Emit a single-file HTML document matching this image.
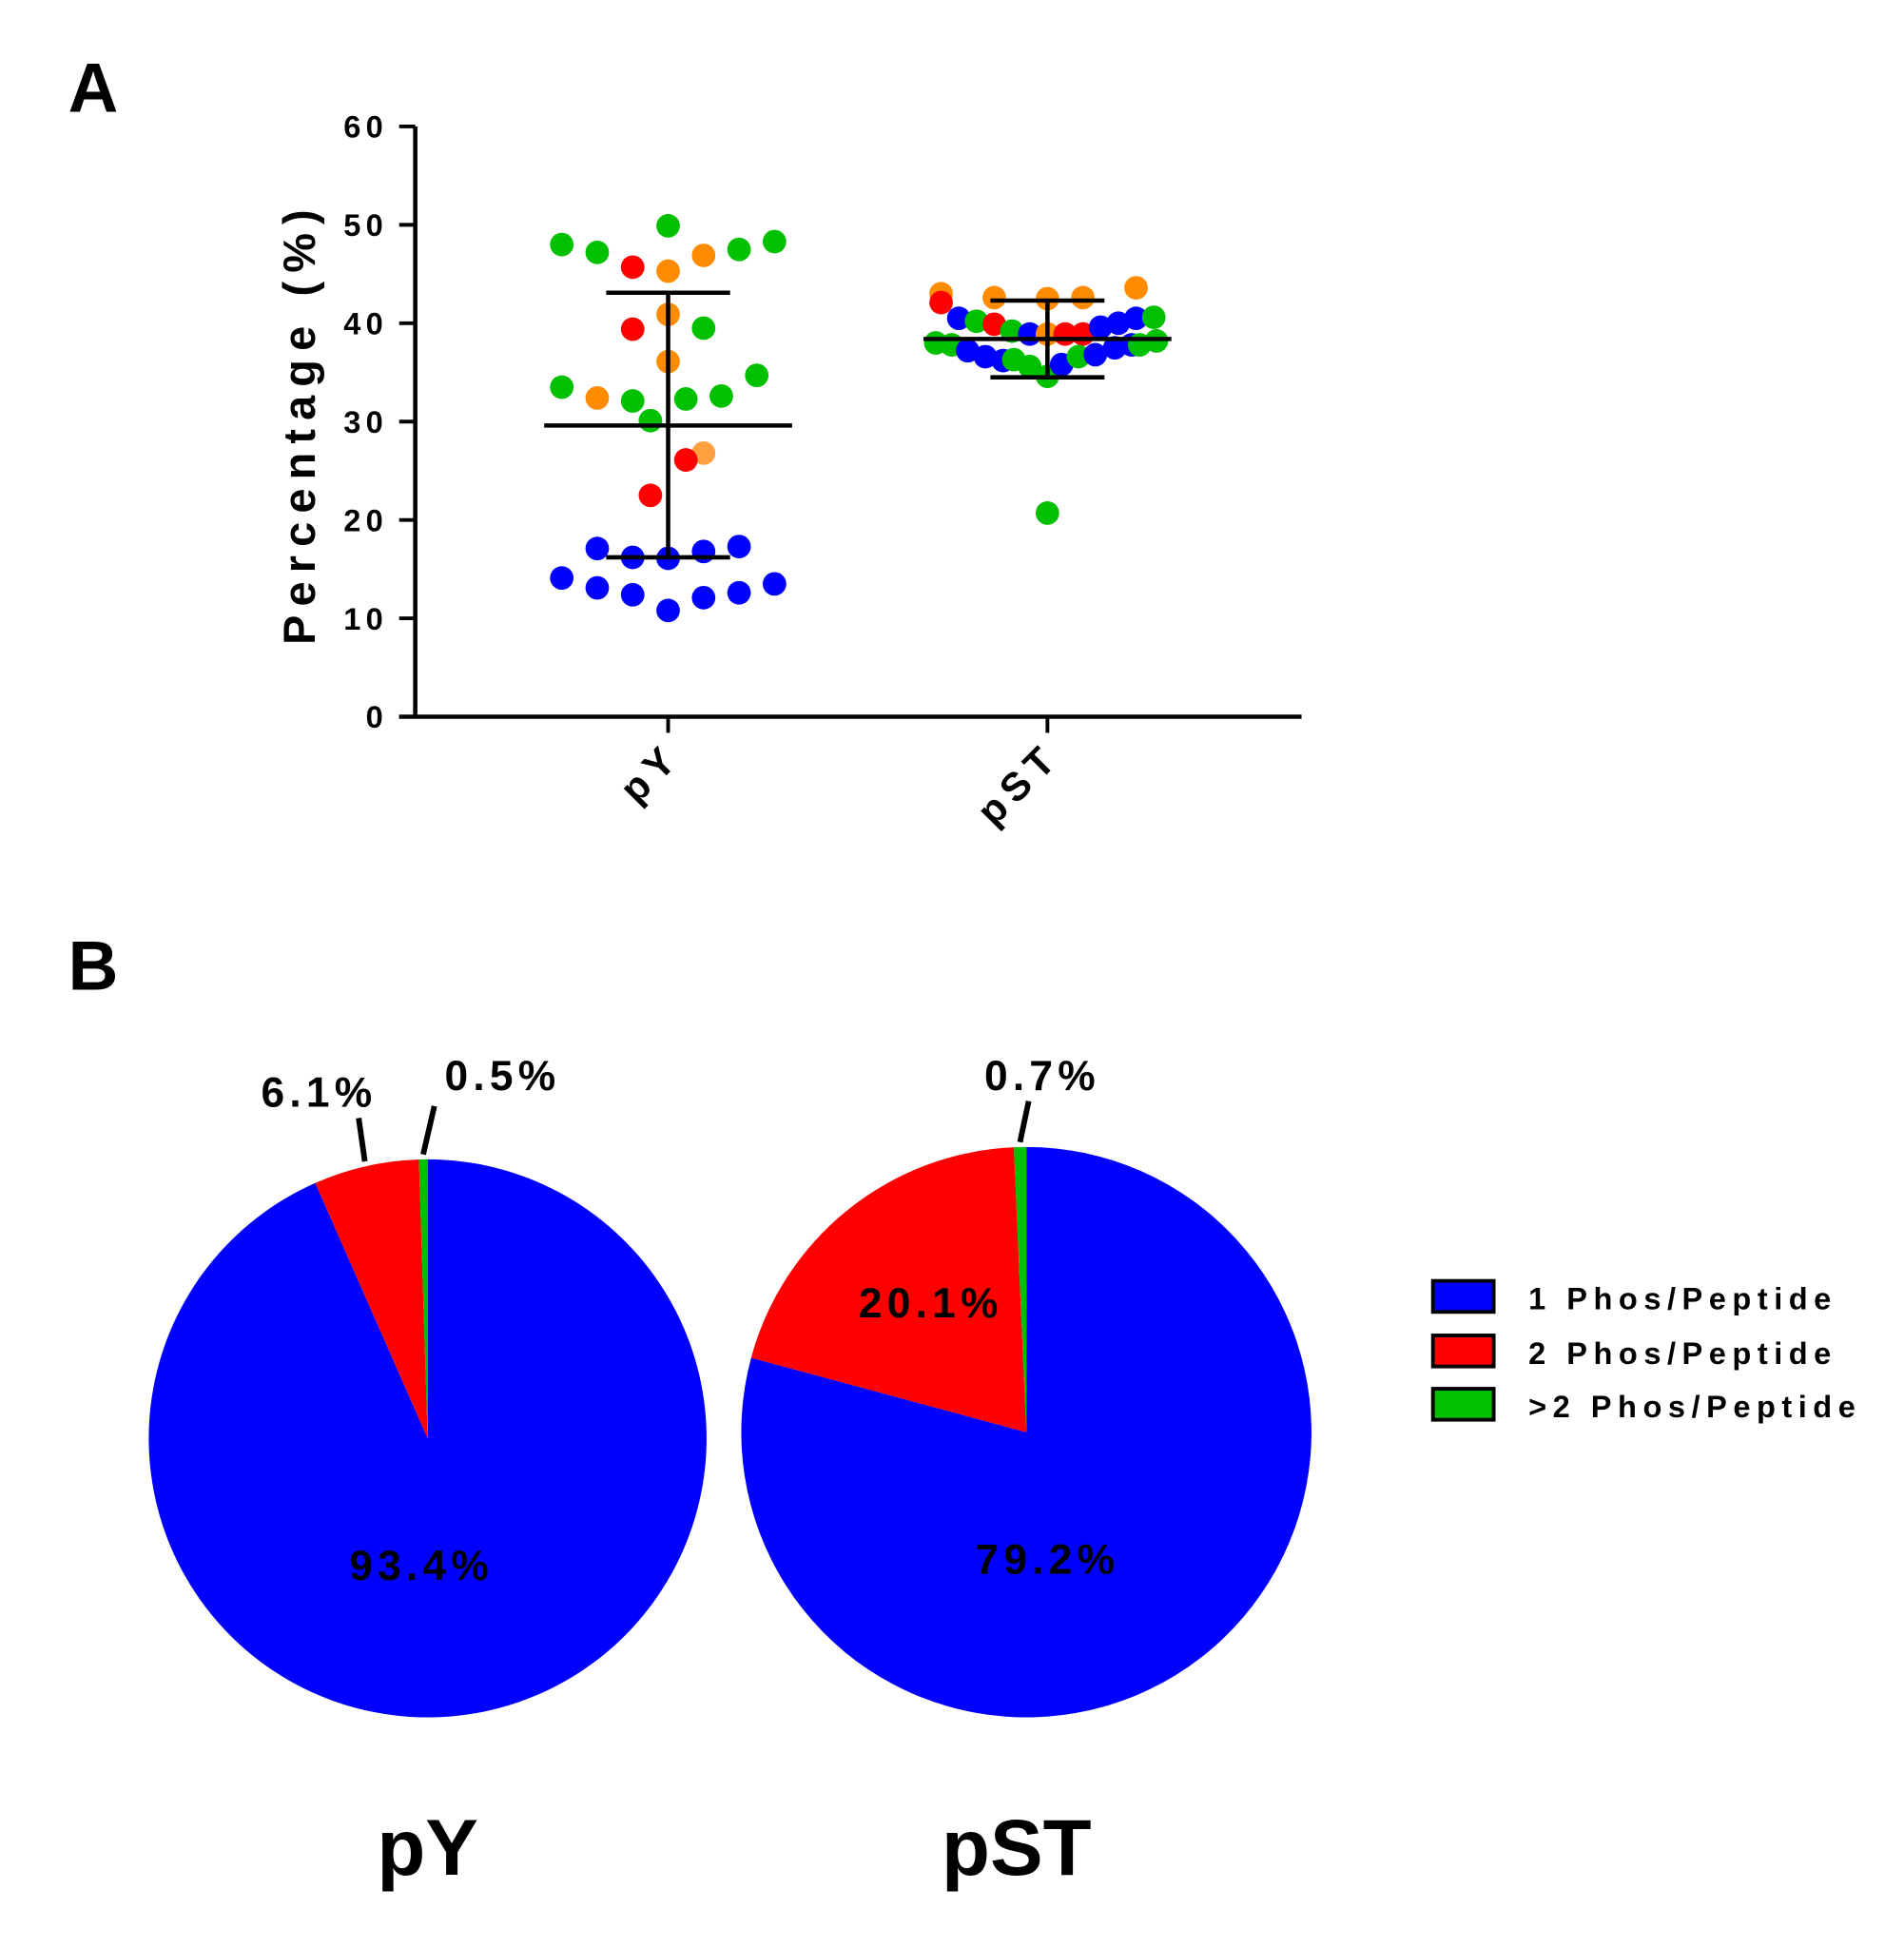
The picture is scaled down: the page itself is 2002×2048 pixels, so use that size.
<!DOCTYPE html>
<html><head><meta charset="utf-8"><style>
html,body{margin:0;padding:0;background:#fff;}
svg{display:block;font-family:"Liberation Sans",Arial,sans-serif;font-weight:bold;}
</style></head><body>
<svg id="fig" width="2002" height="2048" viewBox="0 0 1536 1571" preserveAspectRatio="none" xmlns="http://www.w3.org/2000/svg">
<rect width="1536" height="1571" fill="#fff"/>
<text x="55" y="90" font-size="56">A</text>
<text x="55" y="798" font-size="56">B</text>
<g id="scatter"></g>
<g id="pies"></g>
<g>
 <rect x="1156" y="1033" width="49" height="25" fill="#0000ff" stroke="#000" stroke-width="3"/>
 <text x="1233" y="1056" font-size="25" letter-spacing="5">1 Phos/Peptide</text>
 <rect x="1156" y="1077" width="49" height="25" fill="#ff0000" stroke="#000" stroke-width="3"/>
 <text x="1233" y="1100" font-size="25" letter-spacing="5">2 Phos/Peptide</text>
 <rect x="1156" y="1120" width="49" height="25" fill="#00c000" stroke="#000" stroke-width="3"/>
 <text x="1233" y="1143" font-size="25" letter-spacing="5">&gt;2 Phos/Peptide</text>
</g>
</svg>
<script>
const NS="http://www.w3.org/2000/svg";
// ---- scatter data ----
const categories=["pY","pST"];
const yTicks=[0,10,20,30,40,50,60];
const pYValues=[48,47.2,49.9,47.5,48.3,45.7,45.3,46.9,39.4,40.9,39.5,36.1,33.5,32.4,32.1,32.3,32.6,34.7,30.1,26.8,26.1,22.5,17.1,16.2,16.1,16.8,17.3,14.1,13.1,12.4,10.8,12.1,12.6,13.5];
const pYSlots=[-6,-4,0,4,6,-2,0,2,-2,0,2,0,-6,-4,-2,1,3,5,-1,2,1,-1,-4,-2,0,2,4,-6,-4,-2,0,2,4,6];
const pYColors=["g","g","g","g","g","r","o","o","r","o","g","o","g","o","g","g","g","g","g","l","r","r","b","b","b","b","b","b","b","b","b","b","b","b"];
const pSTValues=[43,42.6,42.5,42.6,43.6,42.1,40.5,40.2,39.9,39.2,38.9,38.9,38.9,38.9,39.6,40,40.5,40.6,38,37.8,37.2,36.6,36.2,36.3,35.6,34.6,35.8,36.6,36.8,37.5,37.8,37.8,38.2,20.7];
const pSTSlots=[-6,-3,0,2,5,-6,-5,-4,-3,-2,-1,0,1,2,3,4,5,6,-6.3,-5.4,-4.5,-3.5,-2.5,-1.9,-1,0,0.8,1.75,2.7,3.8,4.75,5.2,6.15,0];
const pSTColors=["o","o","o","o","o","r","b","g","r","g","b","o","r","r","b","b","b","g","g","g","b","b","b","g","g","g","b","g","b","b","b","g","g","g"];
const means=[29.6,38.4];
const sdHigh=[43.1,42.3];
const sdLow=[16.2,34.5];
// ---- pie data ----
const pieNames=["pY","pST"];
const pieOne=[93.4,79.2];
const pieTwo=[6.1,20.1];
const pieMore=[0.5,0.7];

const colorMap={b:"#0000ff",r:"#ff0000",o:"#ff8c00",l:"#ffa040",g:"#00c000"};
const X0=335,Y0=578,Y60=102,XEND=1050,catX=[539,845],slotW=14.3;
function ys(v){return Y0-(v/60)*(Y0-Y60);}
function xs(i,s){return catX[i]+s*slotW;}
function mk(tag,attrs,parent){const e=document.createElementNS(NS,tag);for(const k in attrs)e.setAttribute(k,attrs[k]);parent.appendChild(e);return e;}
const sc=document.getElementById("scatter");
let ax=mk("line",{x1:X0,y1:Y60,x2:X0,y2:Y0+1.5,stroke:"#000","stroke-width":3.5},sc);


let bx=mk("line",{x1:322,y1:Y0,x2:XEND,y2:Y0,stroke:"#000","stroke-width":3.5},sc);


yTicks.forEach(t=>{
 let l=mk("line",{x1:322,y1:ys(t),x2:X0,y2:ys(t),stroke:"#000","stroke-width":3},sc);
 
 
 let tx=mk("text",{x:313,y:ys(t)+9,"font-size":25,"text-anchor":"end","letter-spacing":4},sc);
 tx.textContent=t;
 
 
});
let yt=mk("text",{x:0,y:0,"font-size":36,"text-anchor":"middle","letter-spacing":7,transform:"translate(254,341) rotate(-90)"},sc);
yt.textContent="Percentage (%)";


categories.forEach((c,i)=>{
 let l=mk("line",{x1:catX[i],y1:Y0,x2:catX[i],y2:591,stroke:"#000","stroke-width":3},sc);
 
 
 let tx=mk("text",{x:0,y:0,"font-size":32,"text-anchor":"end","letter-spacing":6,transform:`translate(${catX[i]+12},${612}) rotate(-45)`},sc);
 tx.textContent=c;
 
 
});
function dots(vals,slots,cols,i){
 vals.forEach((v,k)=>{
  let d=mk("circle",{cx:xs(i,slots[k]),cy:ys(v),r:9.5,fill:colorMap[cols[k]]},sc);
  
  
 });
}
dots(pYValues,pYSlots,pYColors,0);
dots(pSTValues,pSTSlots,pSTColors,1);
const meanHalf=[100,100],capHalf=[50,46];
categories.forEach((c,i)=>{
 const x=catX[i];
 [[x-meanHalf[i],ys(means[i]),x+meanHalf[i],ys(means[i]),'mean-line'],
  [x,ys(sdHigh[i]),x,ys(sdLow[i]),'sd-bar'],
  [x-capHalf[i],ys(sdHigh[i]),x+capHalf[i],ys(sdHigh[i]),'sd-cap-high'],
  [x-capHalf[i],ys(sdLow[i]),x+capHalf[i],ys(sdLow[i]),'sd-cap-low']].forEach(a=>{
  let l=mk("line",{x1:a[0],y1:a[1],x2:a[2],y2:a[3],stroke:"#000","stroke-width":3.5},sc);
  
  
 });
});
// ---- pies ----
const pg=document.getElementById("pies");
const pieCx=[345,828],pieCy=[1160,1155],pieR=[225,230];
const sliceCols=["#0000ff","#ff0000","#00c000"];
const leaderStyle={ "0-1":{lead:[-5,-35],lab:[-37,-44]}, "0-2":{lead:[9,-39],lab:[64,-52]}, "1-2":{lead:[7,-33],lab:[18,-42]} };
function pt(cx,cy,r,frac){const a=frac*2*Math.PI;return [cx+r*Math.sin(a),cy-r*Math.cos(a)];}
pieNames.forEach((n,i)=>{
 const vals=[pieOne[i],pieTwo[i],pieMore[i]];
 const tot=vals.reduce((a,b)=>a+b,0);
 let acc=0;
 const cx=pieCx[i],cy=pieCy[i],r=pieR[i];
 vals.forEach((v,k)=>{
  const f0=acc/tot,f1=(acc+v)/tot;acc+=v;
  const p0=pt(cx,cy,r,f0),p1=pt(cx,cy,r,f1);
  const large=(f1-f0)>0.5?1:0;
  let p=mk("path",{d:`M${cx},${cy} L${p0[0]},${p0[1]} A${r},${r} 0 ${large} 1 ${p1[0]},${p1[1]} Z`,fill:sliceCols[k]},pg);
  
  
  const mid=(f0+f1)/2;
  let lx,ly;
  if(v/tot>0.15){
   if(k===0){lx=cx+(i===0?-5:17);ly=cy+114;}
   else {[lx,ly]=pt(cx,cy,0.55*r,mid);lx+=2;ly+=6;}
  } else {
   const st=leaderStyle[i+"-"+k]||{lead:[0,-35],lab:[0,-55]};
   const a1=pt(cx,cy,r+4,mid);
   let ln=mk("line",{x1:a1[0],y1:a1[1],x2:a1[0]+st.lead[0],y2:a1[1]+st.lead[1],stroke:"#000","stroke-width":4.5},pg);
   
   
   lx=a1[0]+st.lab[0];ly=a1[1]+st.lab[1];
  }
  let t=mk("text",{x:lx,y:ly,"font-size":34,"text-anchor":"middle","letter-spacing":4},pg);
  t.textContent=v.toFixed(1)+"%";
  
  
 });
 let tt=mk("text",{x:cx+(i===0?0:-8),y:1512,"font-size":64,"text-anchor":"middle"},pg);
 tt.textContent=n;
 
 
});
</script>
</body></html>
